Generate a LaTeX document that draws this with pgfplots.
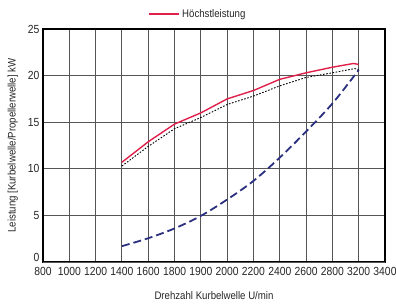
\documentclass[border=0pt]{standalone}
\usepackage{fontspec}
\setmainfont{Liberation Sans}[FakeStretch=0.88]
\usepackage{pgfplots}
\pgfplotsset{compat=1.18}
\definecolor{hred}{HTML}{E0204A}
\definecolor{hblue}{HTML}{2B2F80}
\definecolor{gridc}{HTML}{555555}
\begin{document}
\begin{tikzpicture}
\useasboundingbox (0,0) rectangle (396bp,306bp);
\begin{axis}[
  at={(43bp,44bp)}, anchor=south west,
  scale only axis, width=342bp, height=233bp,
  xmin=0, xmax=13, ymin=0, ymax=25,
  xtick={0,...,13},
  xticklabels={800,1000,1200,1400,1600,1800,1900,2000,2200,2400,2600,2800,3200,3400},
  ytick={5,10,15,20,25},
  extra y ticks={0},
  extra y tick style={yticklabel style={yshift=5bp}},
  grid=major,
  major grid style={gridc, line width=0.9pt},
  major tick length=0pt,
  axis line style={black, line width=1.2pt},
  /pgf/number format/assume math mode=true,
  tick label style={font=\fontsize{11.8}{13}\selectfont, text=black!85},
  xticklabel style={yshift=-1.5bp},
  label style={font=\fontsize{11}{13}\selectfont, text=black!85},
  xlabel={Drehzahl Kurbelwelle U/min},
  ylabel={Leistung [Kurbelwelle/Propellerwelle] kW},
  xlabel style={at={(axis description cs:0.5,-0.146)}, anchor=center},
  ylabel style={at={(axis description cs:-0.088,0.5)}, anchor=center},
  legend style={at={(axis description cs:0.30,1.064)}, anchor=west, draw=none, fill=none,
    font=\fontsize{11}{13}\selectfont, text=black!85},
  legend image code/.code={\draw[#1] (0bp,0bp) -- (30bp,0bp);},
  clip=false,
]
\addplot[black, line width=0.9pt, dash pattern=on 1.6pt off 1.6pt, forget plot] coordinates {
  (3,10.3) (4,12.4) (5,14.3) (6,15.5) (7,16.9) (8,17.8) (9,18.9) (10,19.8) (11,20.3) (11.85,20.75) (12,20.65)
};
\addplot[hblue, line width=1.8pt, dash pattern=on 8pt off 4pt, smooth, forget plot] coordinates {
  (3,1.7) (4,2.55) (5,3.6) (6,4.95) (7,6.7) (8,8.7) (9,11.2) (10,14.0) (11,17.0) (12,20.6)
};
\addplot[hred, line width=1.4pt] coordinates {
  (3,10.7) (4,12.9) (5,14.8) (6,16.0) (7,17.5) (8,18.4) (9,19.6) (10,20.3) (11,20.9) (11.8,21.3) (12,21.2)
};
\addlegendentry{Höchstleistung}
\end{axis}
\end{tikzpicture}
\end{document}
